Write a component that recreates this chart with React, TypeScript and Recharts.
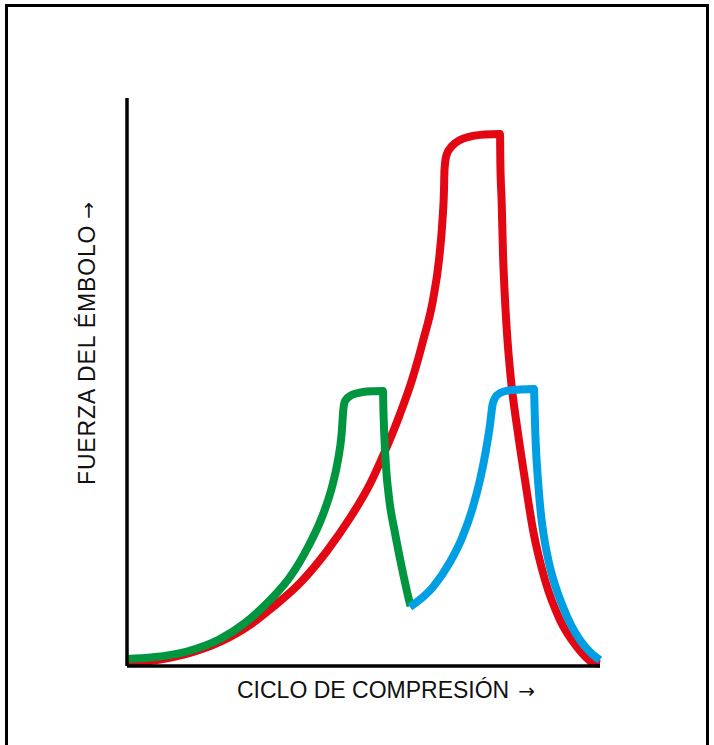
import React from "react";
import { LineChart, Line, XAxis, YAxis } from "recharts";

// curves, x = compression cycle (0-100), y = plunger force (0-100)
const redCurve = [
  { x: 0, y: 0.53 }, { x: 6.98, y: 1.14 }, { x: 13.32, y: 2.29 }, { x: 19.66, y: 4.23 },
  { x: 26.0, y: 7.22 }, { x: 30.87, y: 10.39 }, { x: 36.58, y: 14.61 }, { x: 42.28, y: 20.25 },
  { x: 47.15, y: 26.06 }, { x: 51.37, y: 32.04 }, { x: 54.55, y: 37.85 }, { x: 57.72, y: 44.37 },
  { x: 60.25, y: 50.35 }, { x: 62.58, y: 57.22 }, { x: 64.69, y: 64.44 }, { x: 65.96, y: 71.48 },
  { x: 66.7, y: 78.52 }, { x: 67.02, y: 83.8 }, { x: 67.12, y: 87.32 }, { x: 67.55, y: 89.96 },
  { x: 68.71, y: 91.55 }, { x: 70.4, y: 92.61 }, { x: 72.52, y: 93.22 }, { x: 75.69, y: 93.57 },
  { x: 78.86, y: 93.66 }, { x: 78.94, y: 88.2 }, { x: 79.2, y: 82.04 }, { x: 79.49, y: 72.71 },
  { x: 79.92, y: 64.44 }, { x: 80.44, y: 57.39 }, { x: 81.18, y: 50.35 }, { x: 82.56, y: 41.55 },
  { x: 84.14, y: 32.75 }, { x: 85.84, y: 23.94 }, { x: 88.37, y: 15.14 }, { x: 91.54, y: 8.1 },
  { x: 95.14, y: 3.35 }, { x: 98.31, y: 0.7 }, { x: 100, y: 0.35 },
];

const greenCurve = [
  { x: 0, y: 1.23 }, { x: 5.5, y: 1.53 }, { x: 12.68, y: 2.55 }, { x: 19.66, y: 4.75 },
  { x: 24.95, y: 7.57 }, { x: 28.12, y: 9.86 }, { x: 30.87, y: 12.15 }, { x: 34.46, y: 15.67 },
  { x: 38.27, y: 20.95 }, { x: 41.23, y: 26.23 }, { x: 43.34, y: 31.51 }, { x: 44.61, y: 36.27 },
  { x: 45.39, y: 41.02 }, { x: 45.73, y: 45.07 }, { x: 46.09, y: 46.65 }, { x: 47.51, y: 47.71 },
  { x: 49.89, y: 48.24 }, { x: 52.01, y: 48.38 }, { x: 54.12, y: 48.42 }, { x: 54.21, y: 45.07 },
  { x: 54.38, y: 41.02 }, { x: 54.76, y: 35.04 }, { x: 55.45, y: 29.23 }, { x: 56.66, y: 23.42 },
  { x: 58.08, y: 17.43 }, { x: 59.62, y: 11.62 }, { x: 59.94, y: 10.56 },
];

const blueCurve = [
  { x: 59.83, y: 10.39 }, { x: 64.69, y: 13.91 }, { x: 68.29, y: 18.31 }, { x: 70.82, y: 22.54 },
  { x: 72.94, y: 27.46 }, { x: 74.63, y: 32.75 }, { x: 75.9, y: 38.03 }, { x: 76.74, y: 42.43 },
  { x: 77.27, y: 45.95 }, { x: 77.8, y: 47.18 }, { x: 78.86, y: 48.06 }, { x: 80.55, y: 48.5 },
  { x: 83.09, y: 48.68 }, { x: 86.05, y: 48.77 }, { x: 86.15, y: 45.95 }, { x: 86.3, y: 41.55 },
  { x: 86.53, y: 37.15 }, { x: 86.89, y: 32.75 }, { x: 87.42, y: 27.46 }, { x: 88.16, y: 22.71 },
  { x: 89.22, y: 18.13 }, { x: 90.49, y: 14.26 }, { x: 92.18, y: 10.39 }, { x: 93.87, y: 7.22 },
  { x: 95.77, y: 4.58 }, { x: 97.67, y: 2.64 }, { x: 99.37, y: 1.41 }, { x: 100, y: 1.06 },
];

const xLabel = "CICLO DE COMPRESIÓN";
const yLabel = "FUERZA DEL ÉMBOLO";
const arrow = "→";

const RED = "#E30613";
const GREEN = "#00963F";
const BLUE = "#009FE3";

const font = "'Liberation Sans', Arial, Helvetica, sans-serif";

export default function App() {
  return (
    <div style={{ position: "absolute", left: 0, top: 0, width: 714, height: 745, overflow: "hidden", background: "#fff" }}>
      <div
        style={{
          position: "absolute",
          left: 5,
          top: 4,
          width: 704,
          height: 800,
          border: "3px solid #000",
          boxSizing: "border-box",
        }}
      />
      <div style={{ position: "absolute", left: 0, top: 0 }}>
        <LineChart width={714} height={745} margin={{ top: 98, right: 114, bottom: 49, left: 67 }}>
          <XAxis
            dataKey="x"
            type="number"
            domain={[0, 100]}
            tick={false}
            tickLine={false}
            height={30}
            axisLine={{ stroke: "#000", strokeWidth: 3.5 }}
            allowDuplicatedCategory={false}
          />
          <YAxis
            type="number"
            domain={[0, 100]}
            tick={false}
            tickLine={false}
            width={60}
            axisLine={{ stroke: "#000", strokeWidth: 3.5 }}
          />
          <Line data={redCurve} dataKey="y" type="monotone" stroke={RED} strokeWidth={8} dot={false} activeDot={false} isAnimationActive={false} strokeLinecap="butt" />
          <Line data={greenCurve} dataKey="y" type="monotone" stroke={GREEN} strokeWidth={8} dot={false} activeDot={false} isAnimationActive={false} strokeLinecap="butt" />
          <Line data={blueCurve} dataKey="y" type="monotone" stroke={BLUE} strokeWidth={8} dot={false} activeDot={false} isAnimationActive={false} strokeLinecap="butt" />
        </LineChart>
      </div>
      <svg width={714} height={745} style={{ position: "absolute", left: 0, top: 0, pointerEvents: "none" }}>
        <text x={237} y={698} fontFamily={font} fontSize={23} fill="#111">
          {xLabel}
          <tspan dx={9} fontFamily="'DejaVu Sans', sans-serif" fontSize={20}>
            {arrow}
          </tspan>
        </text>
        <text
          x={95}
          y={485}
          fontFamily={font}
          fontSize={23}
          letterSpacing={0.85}
          fill="#111"
          transform="rotate(-90 95 485)"
        >
          {yLabel}
          <tspan dx={6} fontFamily="'DejaVu Sans', sans-serif" fontSize={20} letterSpacing={0}>
            {arrow}
          </tspan>
        </text>
      </svg>
    </div>
  );
}
